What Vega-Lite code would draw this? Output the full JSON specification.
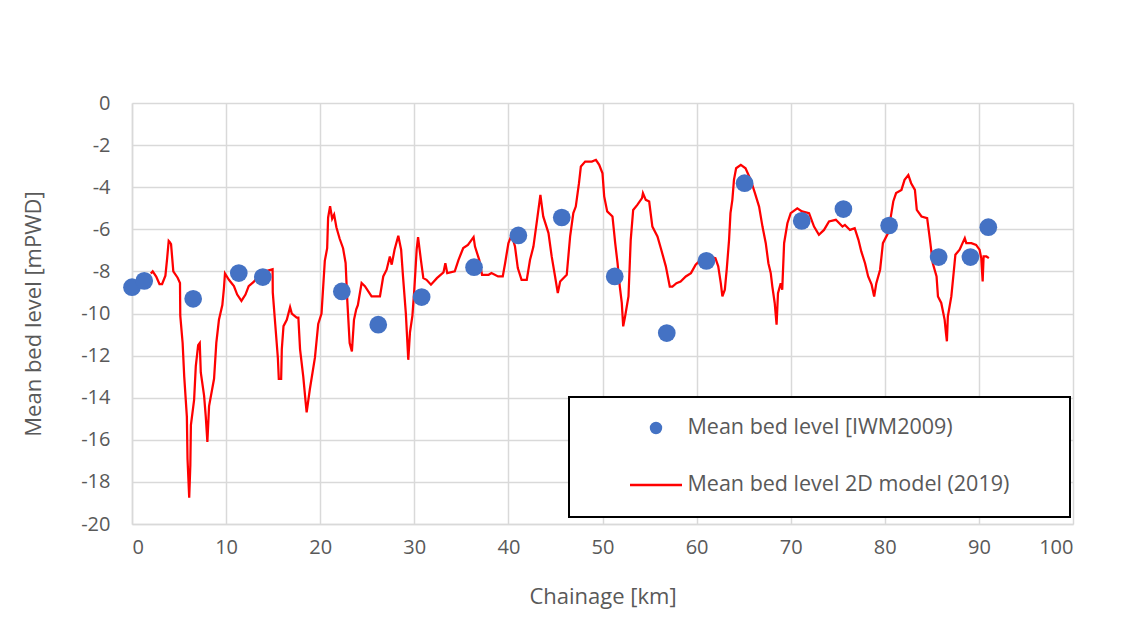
{
  "$schema": "https://vega.github.io/schema/vega-lite/v6.json",
  "width": 941,
  "height": 421,
  "autosize": {"type": "none"},
  "padding": {"left": 132, "top": 103, "right": 63, "bottom": 113},
  "background": "white",
  "datasets": {
    "model": [
      {"km": 2.0, "level": -8.1}, {"km": 2.2, "level": -8.0}, {"km": 2.57, "level": -8.25}, {"km": 2.92, "level": -8.6},
      {"km": 3.2, "level": -8.6}, {"km": 3.55, "level": -8.2}, {"km": 3.73, "level": -7.4}, {"km": 3.9, "level": -6.55},
      {"km": 4.0, "level": -6.6}, {"km": 4.15, "level": -6.7}, {"km": 4.39, "level": -8.0}, {"km": 4.85, "level": -8.3},
      {"km": 5.1, "level": -8.55}, {"km": 5.13, "level": -10.1}, {"km": 5.38, "level": -11.4}, {"km": 5.55, "level": -13.0},
      {"km": 5.83, "level": -14.9}, {"km": 5.9, "level": -16.9}, {"km": 6.08, "level": -18.75}, {"km": 6.2, "level": -17.2},
      {"km": 6.26, "level": -15.3}, {"km": 6.6, "level": -14.1}, {"km": 6.78, "level": -12.5}, {"km": 7.03, "level": -11.5},
      {"km": 7.2, "level": -11.4}, {"km": 7.31, "level": -12.8}, {"km": 7.66, "level": -13.9}, {"km": 7.84, "level": -14.9},
      {"km": 8.01, "level": -16.1}, {"km": 8.19, "level": -14.4}, {"km": 8.72, "level": -13.1}, {"km": 8.96, "level": -11.4},
      {"km": 9.24, "level": -10.3}, {"km": 9.6, "level": -9.6}, {"km": 9.77, "level": -8.8}, {"km": 9.88, "level": -8.1},
      {"km": 10.3, "level": -8.4}, {"km": 10.83, "level": -8.7}, {"km": 11.18, "level": -9.1}, {"km": 11.63, "level": -9.4},
      {"km": 12.06, "level": -9.1}, {"km": 12.4, "level": -8.7}, {"km": 12.93, "level": -8.5}, {"km": 13.46, "level": -8.2},
      {"km": 14.17, "level": -8.0}, {"km": 14.94, "level": -7.9}, {"km": 14.96, "level": -9.0}, {"km": 15.22, "level": -10.5},
      {"km": 15.5, "level": -12.1}, {"km": 15.6, "level": -13.1}, {"km": 15.85, "level": -13.1}, {"km": 15.92, "level": -11.7},
      {"km": 16.1, "level": -10.6}, {"km": 16.45, "level": -10.3}, {"km": 16.8, "level": -9.7}, {"km": 16.98, "level": -10.0},
      {"km": 17.5, "level": -10.2}, {"km": 17.68, "level": -10.2}, {"km": 17.86, "level": -11.7}, {"km": 18.2, "level": -13.0},
      {"km": 18.45, "level": -14.2}, {"km": 18.56, "level": -14.7}, {"km": 18.9, "level": -13.6}, {"km": 19.44, "level": -12.1},
      {"km": 19.79, "level": -10.5}, {"km": 20.14, "level": -10.0}, {"km": 20.49, "level": -7.5}, {"km": 20.74, "level": -6.9},
      {"km": 20.84, "level": -5.45}, {"km": 21.05, "level": -4.9}, {"km": 21.27, "level": -5.5}, {"km": 21.48, "level": -5.3},
      {"km": 21.72, "level": -5.9}, {"km": 22.07, "level": -6.45}, {"km": 22.43, "level": -6.9}, {"km": 22.7, "level": -7.6},
      {"km": 22.88, "level": -9.4}, {"km": 23.13, "level": -11.4}, {"km": 23.37, "level": -11.8}, {"km": 23.59, "level": -10.3},
      {"km": 23.83, "level": -9.8}, {"km": 24.0, "level": -9.6}, {"km": 24.4, "level": -8.55}, {"km": 24.75, "level": -8.7},
      {"km": 25.46, "level": -9.19}, {"km": 26.35, "level": -9.19}, {"km": 26.7, "level": -8.24}, {"km": 27.06, "level": -7.92},
      {"km": 27.4, "level": -7.29}, {"km": 27.6, "level": -7.68}, {"km": 27.9, "level": -6.97}, {"km": 28.3, "level": -6.31},
      {"km": 28.6, "level": -6.97}, {"km": 28.8, "level": -8.24}, {"km": 29.1, "level": -9.98}, {"km": 29.36, "level": -12.2},
      {"km": 29.54, "level": -10.9}, {"km": 29.8, "level": -10.1}, {"km": 30.0, "level": -8.87}, {"km": 30.25, "level": -6.97},
      {"km": 30.4, "level": -6.37}, {"km": 30.7, "level": -7.45}, {"km": 30.96, "level": -8.32}, {"km": 31.3, "level": -8.4},
      {"km": 31.77, "level": -8.63}, {"km": 32.4, "level": -8.32}, {"km": 33.1, "level": -8.05}, {"km": 33.3, "level": -7.61},
      {"km": 33.5, "level": -8.08}, {"km": 34.3, "level": -8.0}, {"km": 34.7, "level": -7.45}, {"km": 35.2, "level": -6.89},
      {"km": 35.7, "level": -6.74}, {"km": 36.3, "level": -6.37}, {"km": 36.45, "level": -6.82}, {"km": 36.9, "level": -7.45},
      {"km": 37.2, "level": -8.16}, {"km": 37.9, "level": -8.16}, {"km": 38.2, "level": -8.08}, {"km": 38.9, "level": -8.24},
      {"km": 39.4, "level": -8.24}, {"km": 39.65, "level": -7.61}, {"km": 40.0, "level": -6.66}, {"km": 40.35, "level": -6.26},
      {"km": 40.7, "level": -6.82}, {"km": 41.0, "level": -7.84}, {"km": 41.4, "level": -8.4}, {"km": 41.95, "level": -8.4},
      {"km": 42.3, "level": -7.45}, {"km": 42.66, "level": -6.82}, {"km": 43.0, "level": -5.71}, {"km": 43.4, "level": -4.36},
      {"km": 43.7, "level": -5.39}, {"km": 44.26, "level": -6.18}, {"km": 44.6, "level": -7.29}, {"km": 44.96, "level": -8.24},
      {"km": 45.25, "level": -9.03}, {"km": 45.5, "level": -8.48}, {"km": 46.2, "level": -8.16}, {"km": 46.56, "level": -6.34},
      {"km": 46.9, "level": -5.23}, {"km": 47.16, "level": -4.92}, {"km": 47.5, "level": -3.81}, {"km": 47.7, "level": -3.02},
      {"km": 48.16, "level": -2.78}, {"km": 48.87, "level": -2.78}, {"km": 49.3, "level": -2.7}, {"km": 49.65, "level": -2.94},
      {"km": 50.0, "level": -3.34}, {"km": 50.18, "level": -4.44}, {"km": 50.5, "level": -5.15}, {"km": 51.06, "level": -5.39},
      {"km": 51.35, "level": -6.66}, {"km": 51.6, "level": -7.61}, {"km": 51.84, "level": -8.72}, {"km": 52.05, "level": -9.5},
      {"km": 52.2, "level": -10.61}, {"km": 52.4, "level": -10.14}, {"km": 52.76, "level": -9.19}, {"km": 53.0, "level": -6.5},
      {"km": 53.26, "level": -5.08}, {"km": 53.7, "level": -4.84}, {"km": 54.2, "level": -4.52}, {"km": 54.3, "level": -4.28},
      {"km": 54.6, "level": -4.6}, {"km": 54.96, "level": -4.68}, {"km": 55.3, "level": -5.87}, {"km": 55.84, "level": -6.34},
      {"km": 56.2, "level": -6.9}, {"km": 56.73, "level": -7.76}, {"km": 57.15, "level": -8.72}, {"km": 57.43, "level": -8.72},
      {"km": 57.86, "level": -8.56}, {"km": 58.3, "level": -8.48}, {"km": 58.85, "level": -8.24}, {"km": 59.4, "level": -8.08},
      {"km": 59.9, "level": -7.68}, {"km": 60.44, "level": -7.45}, {"km": 61.3, "level": -7.29}, {"km": 62.0, "level": -7.37},
      {"km": 62.3, "level": -7.76}, {"km": 62.57, "level": -8.56}, {"km": 62.74, "level": -9.19}, {"km": 63.0, "level": -8.87},
      {"km": 63.2, "level": -7.92}, {"km": 63.45, "level": -6.5}, {"km": 63.6, "level": -5.23}, {"km": 63.8, "level": -4.6},
      {"km": 63.97, "level": -3.65}, {"km": 64.2, "level": -3.1}, {"km": 64.7, "level": -2.94}, {"km": 65.2, "level": -3.1},
      {"km": 65.75, "level": -3.65}, {"km": 66.2, "level": -4.28}, {"km": 66.64, "level": -4.92}, {"km": 67.0, "level": -5.87},
      {"km": 67.35, "level": -6.66}, {"km": 67.63, "level": -7.61}, {"km": 67.88, "level": -8.08}, {"km": 68.05, "level": -8.72},
      {"km": 68.3, "level": -9.5}, {"km": 68.5, "level": -10.53}, {"km": 68.65, "level": -9.03}, {"km": 68.94, "level": -8.56},
      {"km": 69.1, "level": -8.87}, {"km": 69.3, "level": -6.66}, {"km": 69.65, "level": -5.71}, {"km": 70.0, "level": -5.23},
      {"km": 70.7, "level": -5.0}, {"km": 71.2, "level": -5.15}, {"km": 71.95, "level": -5.23}, {"km": 72.48, "level": -5.87},
      {"km": 73.0, "level": -6.26}, {"km": 73.54, "level": -6.03}, {"km": 74.07, "level": -5.63}, {"km": 74.8, "level": -5.55},
      {"km": 75.5, "level": -5.87}, {"km": 75.76, "level": -5.79}, {"km": 76.3, "level": -6.03}, {"km": 76.8, "level": -5.95},
      {"km": 77.2, "level": -6.5}, {"km": 77.5, "level": -7.05}, {"km": 77.9, "level": -7.61}, {"km": 78.23, "level": -8.24},
      {"km": 78.6, "level": -8.63}, {"km": 78.87, "level": -9.19}, {"km": 79.1, "level": -8.56}, {"km": 79.5, "level": -7.92},
      {"km": 79.8, "level": -6.66}, {"km": 80.35, "level": -6.18}, {"km": 80.7, "level": -5.23}, {"km": 80.9, "level": -4.68},
      {"km": 81.2, "level": -4.28}, {"km": 81.77, "level": -4.13}, {"km": 82.1, "level": -3.65}, {"km": 82.5, "level": -3.42},
      {"km": 82.8, "level": -3.81}, {"km": 83.2, "level": -4.13}, {"km": 83.4, "level": -5.08}, {"km": 83.9, "level": -5.39},
      {"km": 84.5, "level": -5.47}, {"km": 84.8, "level": -6.5}, {"km": 85.1, "level": -7.61}, {"km": 85.5, "level": -8.24},
      {"km": 85.65, "level": -9.19}, {"km": 86.0, "level": -9.5}, {"km": 86.36, "level": -10.3}, {"km": 86.5, "level": -10.93},
      {"km": 86.6, "level": -11.32}, {"km": 86.7, "level": -10.14}, {"km": 87.07, "level": -9.19}, {"km": 87.35, "level": -7.92},
      {"km": 87.5, "level": -7.21}, {"km": 87.95, "level": -6.97}, {"km": 88.5, "level": -6.42}, {"km": 88.66, "level": -6.66},
      {"km": 89.2, "level": -6.66}, {"km": 89.7, "level": -6.74}, {"km": 90.07, "level": -6.97}, {"km": 90.25, "level": -7.37},
      {"km": 90.4, "level": -8.48}, {"km": 90.5, "level": -7.29}, {"km": 90.8, "level": -7.29}, {"km": 91.06, "level": -7.37}
    ],
    "survey": [
      {"km": 0, "level": -8.75}, {"km": 1.3, "level": -8.45}, {"km": 6.5, "level": -9.3}, {"km": 11.35, "level": -8.08},
      {"km": 13.9, "level": -8.27}, {"km": 22.3, "level": -8.95}, {"km": 26.17, "level": -10.53}, {"km": 30.78, "level": -9.22},
      {"km": 36.35, "level": -7.8}, {"km": 41.06, "level": -6.29}, {"km": 45.67, "level": -5.44}, {"km": 51.3, "level": -8.24},
      {"km": 56.83, "level": -10.93}, {"km": 61.04, "level": -7.5}, {"km": 65.1, "level": -3.81}, {"km": 71.17, "level": -5.6},
      {"km": 75.6, "level": -5.04}, {"km": 80.46, "level": -5.82}, {"km": 85.72, "level": -7.32}, {"km": 89.1, "level": -7.32},
      {"km": 91.0, "level": -5.9}
    ]
  },
  "encoding": {
    "x": {
      "field": "km", "type": "quantitative",
      "scale": {"domain": [0, 100], "nice": false, "zero": false},
      "axis": {"values": [0, 10, 20, 30, 40, 50, 60, 70, 80, 90, 100], "title": "Chainage [km]", "labelPadding": 13, "titlePadding": 29}
    },
    "y": {
      "field": "level", "type": "quantitative",
      "scale": {"domain": [-20, 0], "nice": false},
      "axis": {"values": [-20, -18, -16, -14, -12, -10, -8, -6, -4, -2, 0], "title": "Mean bed level [mPWD]", "labelPadding": 22, "titlePadding": 35, "labelExpr": "datum.value + ''"}
    }
  },
  "layer": [
    {
      "data": {"name": "model"},
      "mark": {"type": "line", "strokeWidth": 2.25, "clip": false},
      "encoding": {
        "color": {
          "datum": "Mean bed level 2D model (2019)",
          "scale": {"domain": ["Mean bed level [IWM2009)", "Mean bed level 2D model (2019)"], "range": ["#4472C4", "#ff0000"]},
          "legend": {
            "title": "0000000000",
            "titleOrient": "right",
            "titleOpacity": 0,
            "titleFontSize": 6,
            "titlePadding": 5,
            "orient": "none",
            "legendX": 437,
            "legendY": 294,
            "padding": 21,
            "strokeColor": "#000000",
            "fillColor": "#ffffff",
            "labelFont": "Open Sans",
            "labelFontSize": 21.5,
            "labelColor": "#595959",
            "labelLimit": 600,
            "labelOffset": 4,
            "symbolOffset": 38.5,
            "rowPadding": 35,
            "clipHeight": 20,
            "encode": {
              "legend": {"update": {"strokeWidth": {"value": 2}}},
              "symbols": {
                "update": {
                  "shape": {"signal": "(datum.value === 'Mean bed level [IWM2009)' ? 'circle' : 'stroke')"},
                  "size": {"signal": "(datum.value === 'Mean bed level [IWM2009)' ? 154 : 2704)"},
                  "strokeWidth": {"signal": "(datum.value === 'Mean bed level [IWM2009)' ? 0 : 2.5)"},
                  "fill": {"signal": "(datum.value === 'Mean bed level [IWM2009)' ? '#4472C4' : 'transparent')"},
                  "stroke": {"signal": "(datum.value === 'Mean bed level [IWM2009)' ? '#4472C4' : '#ff0000')"},
                  "opacity": {"value": 1}
                }
              }
            }
          }
        }
      }
    },
    {
      "data": {"name": "survey"},
      "mark": {"type": "point", "filled": true, "size": 314, "opacity": 1, "clip": false},
      "encoding": {
        "color": {"datum": "Mean bed level [IWM2009)"}
      }
    }
  ],
  "config": {
    "view": {"stroke": null},
    "font": "Open Sans",
    "axis": {
      "grid": true,
      "gridColor": "#d9d9d9",
      "gridWidth": 1.5,
      "domainColor": "#d9d9d9",
      "domainWidth": 1.5,
      "ticks": false,
      "labelFont": "Open Sans",
      "labelFontSize": 20,
      "labelColor": "#595959",
      "titleFont": "Open Sans",
      "titleFontSize": 22,
      "titleFontWeight": "normal",
      "titleColor": "#595959"
    }
  }
}
